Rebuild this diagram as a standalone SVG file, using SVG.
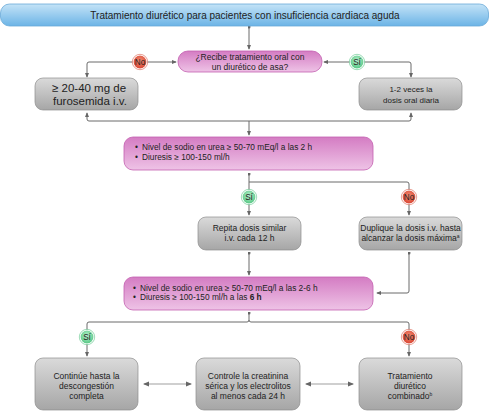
<svg xmlns="http://www.w3.org/2000/svg" width="493" height="413" viewBox="0 0 493 413">
<defs>
<linearGradient id="gBlue" x1="0" y1="0" x2="0" y2="1"><stop offset="0" stop-color="#c4e3f7"/><stop offset="1" stop-color="#6cb4e6"/></linearGradient>
<linearGradient id="gMag" x1="0" y1="0" x2="0" y2="1"><stop offset="0" stop-color="#d47cc3"/><stop offset="1" stop-color="#eec3e6"/></linearGradient>
<linearGradient id="gGray" x1="0" y1="0" x2="0" y2="1"><stop offset="0" stop-color="#dadada"/><stop offset="1" stop-color="#a6a6a6"/></linearGradient>
<radialGradient id="gRed" cx="0.5" cy="0.4" r="0.6"><stop offset="0" stop-color="#f08a70"/><stop offset="1" stop-color="#d8402e"/></radialGradient>
<radialGradient id="gGreen" cx="0.5" cy="0.4" r="0.6"><stop offset="0" stop-color="#b8f0cc"/><stop offset="1" stop-color="#4fc47f"/></radialGradient>
<marker id="ah" viewBox="0 0 6 6" refX="5" refY="3" markerWidth="5" markerHeight="5" orient="auto-start-reverse"><path d="M0,0.5 L6,3 L0,5.5 Z" fill="#666"/></marker>
<marker id="dot" viewBox="0 0 4 4" refX="2" refY="2" markerWidth="3" markerHeight="3" orient="auto"><circle cx="2" cy="2" r="2" fill="#666"/></marker>
</defs>
<style>
text{font-family:"Liberation Sans",Arial,sans-serif;fill:#222;}
.t{font-size:8.5px;text-anchor:middle;}
.b{font-size:8.3px;}
.big{font-size:11.5px;}
.gray{fill:url(#gGray);stroke:#8e8e8e;stroke-width:0.7;}
.mag{fill:url(#gMag);stroke:#c35fb0;stroke-width:0.8;}
.c{fill:none;stroke:#6a6a6a;stroke-width:1;}
.lt{fill:none;stroke:#a0a0a0;stroke-width:1.2;}
.cl{font-size:8.2px;text-anchor:middle;fill:#222;}
</style>

<g id="connectors">
<path class="c" d="M249,27 V49" marker-start="url(#dot)" marker-end="url(#ah)"/>
<path class="c" d="M176,62 H89 Q87,62 87,64 V77" marker-start="url(#ah)" marker-end="url(#ah)"/>
<path class="c" d="M324,62 H409 Q411,62 411,64 V77" marker-start="url(#ah)" marker-end="url(#ah)"/>
<path class="c" d="M87,113 V119 Q87,121 89,121 H409 Q411,121 411,119 V113" marker-start="url(#ah)" marker-end="url(#ah)"/>
<path class="c" d="M249,121 V135" marker-end="url(#ah)"/>
<path class="c" d="M249,174 V190" marker-start="url(#dot)"/>
<path class="c" d="M249,182 H407 Q409,182 409,184 V190"/>
<path class="c" d="M249,204 V215" marker-end="url(#ah)"/>
<path class="c" d="M409,204 V215" marker-end="url(#ah)"/>
<path class="c" d="M249,253 V275" marker-start="url(#dot)" marker-end="url(#ah)"/>
<path class="c" d="M409,253 V291 Q409,293 407,293 H377" marker-start="url(#dot)" marker-end="url(#ah)"/>
<path class="c" d="M249,313 V320 Q249,322 247,322 H89 Q87,322 87,324 V330" marker-start="url(#dot)"/>
<path class="c" d="M249,320 Q249,322 251,322 H407 Q409,322 409,324 V330"/>
<path class="c" d="M87,344 V356" marker-end="url(#ah)"/>
<path class="c" d="M409,344 V356" marker-end="url(#ah)"/>
<path class="lt" d="M144,384 H191" marker-start="url(#ah)" marker-end="url(#ah)"/>
<path class="lt" d="M306,384 H353" marker-start="url(#ah)" marker-end="url(#ah)"/>
</g>

<g id="title">
<rect x="0.5" y="4" width="488" height="22" rx="9" fill="url(#gBlue)" stroke="#6aa9d8" stroke-width="0.8"/>
<text x="245" y="18.5" style="font-size:10px;text-anchor:middle;">Tratamiento diurético para pacientes con insuficiencia cardiaca aguda</text>
</g>

<g id="q1">
<rect class="mag" x="178" y="51" width="144" height="21" rx="10"/>
<text class="t" x="250" y="60">¿Recibe tratamiento oral con</text>
<text class="t" x="250" y="69.5">un diurético de asa?</text>
</g>

<g id="no1">
<circle cx="140" cy="62" r="7" fill="url(#gRed)" stroke="#fff" stroke-width="1.2"/>
<circle cx="140" cy="62" r="7.7" fill="none" stroke="#d8604d" stroke-width="0.6"/>
<text class="cl" x="140" y="64.8">No</text>
</g>
<g id="si1">
<circle cx="357" cy="62" r="7" fill="url(#gGreen)" stroke="#fff" stroke-width="1.2"/>
<circle cx="357" cy="62" r="7.7" fill="none" stroke="#5cc488" stroke-width="0.6"/>
<text class="cl" x="357" y="64.8">Sí</text>
</g>

<g id="furosemida">
<rect class="gray" x="35" y="78" width="103" height="32" rx="8"/>
<text class="big" x="52" y="92">≥ 20-40 mg de</text>
<text class="big" x="53" y="104.5">furosemida i.v.</text>
</g>

<g id="oral">
<rect class="gray" x="359" y="78" width="103" height="32" rx="8"/>
<text class="t" x="411" y="92" style="font-size:8px">1-2 veces la</text>
<text class="t" x="411" y="103" style="font-size:8px">dosis oral diaria</text>
</g>

<g id="sodio1">
<rect class="mag" x="124" y="137" width="249" height="33" rx="9"/>
<text class="b" x="135" y="150">•</text>
<text class="b" x="142" y="150">Nivel de sodio en urea  ≥ 50-70 mEq/l a las 2 h</text>
<text class="b" x="135" y="160">•</text>
<text class="b" x="142" y="160">Diuresis  ≥ 100-150 ml/h</text>
</g>

<g id="si2">
<circle cx="249" cy="197" r="7" fill="url(#gGreen)" stroke="#fff" stroke-width="1.2"/>
<circle cx="249" cy="197" r="7.7" fill="none" stroke="#5cc488" stroke-width="0.6"/>
<text class="cl" x="249" y="199.8">Sí</text>
</g>
<g id="no2">
<circle cx="409" cy="197" r="7" fill="url(#gRed)" stroke="#fff" stroke-width="1.2"/>
<circle cx="409" cy="197" r="7.7" fill="none" stroke="#d8604d" stroke-width="0.6"/>
<text class="cl" x="409" y="199.8">No</text>
</g>

<g id="repita">
<rect class="gray" x="198" y="217" width="103" height="33" rx="8"/>
<text class="t" x="249.5" y="231">Repita dosis similar</text>
<text class="t" x="249.5" y="241">i.v. cada 12 h</text>
</g>

<g id="duplique">
<rect class="gray" x="359" y="217" width="103" height="33" rx="8"/>
<text class="t" x="410.5" y="231">Duplique la dosis i.v. hasta</text>
<text class="t" x="410.5" y="241">alcanzar la dosis máxima<tspan style="font-size:5px" dy="-3">a</tspan></text>
</g>

<g id="sodio2">
<rect class="mag" x="124" y="277" width="249" height="33" rx="9"/>
<text class="b" x="133" y="291">•</text>
<text class="b" x="140" y="291">Nivel de sodio en urea  ≥ 50-70 mEq/l a las 2-6 h</text>
<text class="b" x="133" y="300">•</text>
<text class="b" x="140" y="300">Diuresis  ≥ 100-150 ml/h a las <tspan style="font-weight:bold">6 h</tspan></text>
</g>

<g id="si3">
<circle cx="87" cy="337" r="7" fill="url(#gGreen)" stroke="#fff" stroke-width="1.2"/>
<circle cx="87" cy="337" r="7.7" fill="none" stroke="#5cc488" stroke-width="0.6"/>
<text class="cl" x="87" y="339.8">Sí</text>
</g>
<g id="no3">
<circle cx="409" cy="337" r="7" fill="url(#gRed)" stroke="#fff" stroke-width="1.2"/>
<circle cx="409" cy="337" r="7.7" fill="none" stroke="#d8604d" stroke-width="0.6"/>
<text class="cl" x="409" y="339.8">No</text>
</g>

<g id="continue">
<rect class="gray" x="35" y="358" width="103" height="52" rx="8"/>
<text class="t" x="86.5" y="379">Continúe hasta la</text>
<text class="t" x="86.5" y="389">descongestión</text>
<text class="t" x="86.5" y="399">completa</text>
</g>

<g id="controle">
<rect class="gray" x="196" y="358" width="104" height="52" rx="8"/>
<text class="t" x="248" y="379">Controle la creatinina</text>
<text class="t" x="248" y="389">sérica y los electrolitos</text>
<text class="t" x="248" y="399">al menos cada 24 h</text>
</g>

<g id="combinado">
<rect class="gray" x="359" y="358" width="103" height="52" rx="8"/>
<text class="t" x="410" y="379">Tratamiento</text>
<text class="t" x="410" y="389">diurético</text>
<text class="t" x="410" y="399">combinado<tspan style="font-size:5px" dy="-3">b</tspan></text>
</g>
</svg>
